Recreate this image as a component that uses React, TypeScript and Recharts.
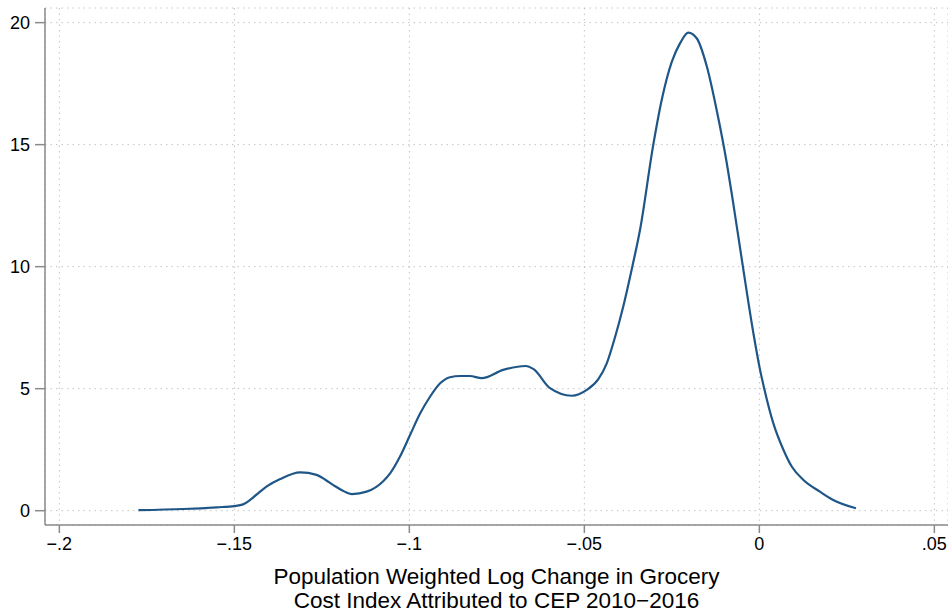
import { CartesianGrid, Line, LineChart, XAxis, YAxis } from 'recharts'

// kernel density
const logChange = [
  -0.1774, -0.1646, -0.155, -0.15, -0.1475, -0.1455, -0.1435, -0.1405, -0.1369, -0.1312,
  -0.1265, -0.124, -0.1217, -0.119, -0.1164, -0.1122, -0.1074, -0.1055, -0.1027, -0.0998,
  -0.0969, -0.0941, -0.0912, -0.0884, -0.0855, -0.0827, -0.0793, -0.0732, -0.0668, -0.0645,
  -0.0598, -0.0536, -0.0493, -0.046, -0.0436, -0.0412, -0.0389, -0.0363, -0.0341, -0.0303,
  -0.0279, -0.025, -0.0226, -0.0203, -0.0179, -0.015, -0.0122, -0.0093, -0.0076, -0.0047,
  -0.0017, 0.0002, 0.0014, 0.004, 0.0069, 0.0093, 0.0126, 0.0173, 0.0211, 0.0276,
]
const density = [
  0.02, 0.07, 0.14, 0.19, 0.26, 0.44, 0.68, 1.02, 1.3, 1.57,
  1.47, 1.27, 1.05, 0.82, 0.68, 0.78, 1.22, 1.53, 2.21, 3.1,
  3.99, 4.67, 5.22, 5.47, 5.52, 5.52, 5.43, 5.77, 5.93, 5.8,
  5.02, 4.71, 4.95, 5.39, 6.04, 7.13, 8.36, 10.0, 11.5, 15.0,
  16.83, 18.4, 19.17, 19.59, 19.36, 18.2, 16.42, 14.24, 12.73, 10.0,
  7.27, 5.77, 5.0, 3.58, 2.49, 1.8, 1.26, 0.78, 0.44, 0.1,
]
const xTicks = [-0.2, -0.15, -0.1, -0.05, 0, 0.05]
const yTicks = [0, 5, 10, 15, 20]
const titleLines = ['Population Weighted Log Change in Grocery', 'Cost Index Attributed to CEP 2010\u22122016']

const data = logChange.map((x, i) => ({ x, y: density[i] }))

const FONT = '"Liberation Sans", Arial, Helvetica, sans-serif'
const AXIS = '#8a8a8a'

function fmtX(v: number) {
  if (v === 0) return '0'
  const s = String(Math.abs(v)).replace(/^0/, '')
  return v < 0 ? `\u2212${s}` : s
}

function TitleLabel({ viewBox }: any) {
  const cx = viewBox.x + viewBox.width / 2
  return (
    <text textAnchor="middle" fontFamily={FONT} fontSize={22.5} fill="#000">
      <tspan x={cx} y={viewBox.y + 59}>{titleLines[0]}</tspan>
      <tspan x={cx} y={viewBox.y + 83}>{titleLines[1]}</tspan>
    </text>
  )
}

export default function App() {
  return (
    <div style={{ width: 948, height: 613, background: '#fff' }}>
      <style>{'body{margin:0}'}</style>
      <LineChart width={948} height={613} data={data} margin={{ top: 8, right: 0, bottom: 0, left: 0 }}>
        <CartesianGrid stroke="#c4c4c4" strokeDasharray="1.5 4" />
        <XAxis
          type="number"
          dataKey="x"
          domain={[-0.2041, 0.0539]}
          ticks={xTicks}
          tickFormatter={fmtX}
          allowDataOverflow
          height={88}
          stroke={AXIS}
          strokeWidth={1.5}
          tickSize={8}
          tickMargin={4}
          tick={{ fill: '#000', fontSize: 18, fontFamily: FONT }}
          label={<TitleLabel />}
        />
        <YAxis
          type="number"
          domain={[-0.586, 20.6]}
          ticks={yTicks}
          allowDataOverflow
          width={45}
          stroke={AXIS}
          strokeWidth={1.5}
          tickSize={10}
          tickMargin={5}
          tick={{ fill: '#000', fontSize: 18, fontFamily: FONT }}
        />
        <Line
          type="monotone"
          dataKey="y"
          stroke="#1f5688"
          strokeWidth={2.2}
          dot={false}
          isAnimationActive={false}
        />
      </LineChart>
    </div>
  )
}
